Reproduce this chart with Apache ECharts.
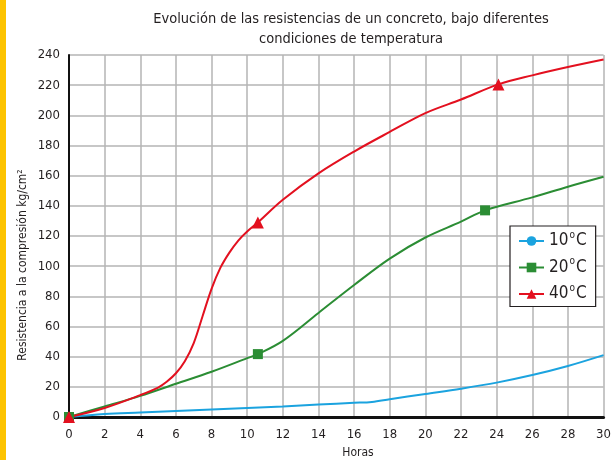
<!DOCTYPE html>
<html>
<head>
<meta charset="utf-8">
<script src="https://cdn.jsdelivr.net/npm/echarts@6/dist/echarts.min.js"></script>
<style>
html,body{margin:0;padding:0;background:#fff;}
#chart{width:614px;height:460px;}
</style>
</head>
<body>
<div id="chart"></div>
<script>
// ---- data ----
const titleText = 'Evolución de las resistencias de un concreto, bajo diferentes\ncondiciones de temperatura';
const xAxisName = 'Horas';
const yAxisName = 'Resistencia a la compresión kg/cm²';
const seriesNames = ['10°C', '20°C', '40°C'];

const hours10 = [0, 2, 4, 6, 8, 10, 12, 14, 16, 17, 18, 20, 22, 24, 26, 28, 30];
const res10   = [0, 2, 3, 4, 5, 6, 7, 8.3, 9.4, 10, 11.8, 15.3, 18.8, 22.8, 27.8, 33.8, 41];

const hours20 = [0, 2, 4, 6, 8, 10, 10.6, 12, 14, 16, 18, 20, 22, 23.35, 26, 28, 30];
const res20   = [0, 7, 14, 22, 30, 39, 41.7, 50.5, 69, 87.5, 105, 119, 129.5, 137, 145.6, 152.7, 159.3];

const hours40 = [0, 2, 4, 5, 5.5, 6, 6.5, 7, 7.5, 8, 8.5, 9, 9.5, 10, 10.6, 12, 14, 16, 18, 20, 22, 24.1, 26, 28, 30];
const res40   = [0, 6, 14.5, 19.5, 23.5, 29, 37, 49, 67, 85, 99, 109, 117, 123, 129, 144, 161.5, 176, 189, 201.5, 210.5, 220.5, 226.5, 232, 237];

const markHours10 = [0];
const markRes10   = [0];
const markHours20 = [0, 10.6, 23.35];
const markRes20   = [0, 41.7, 137];
const markHours40 = [0, 10.6, 24.1];
const markRes40   = [0, 129, 220.5];

const xTicks = {min: 0, max: 30, interval: 2};
const yTicks = {min: 0, max: 240, interval: 20};

// ---- build ----
const pairs = (xs, ys) => xs.map((x, i) => [x, ys[i]]);
const colors = ['#1ba3df', '#2b8d34', '#e3101f'];
const symbols = ['circle', 'rect', 'triangle'];
const lines = [pairs(hours10, res10), pairs(hours20, res20), pairs(hours40, res40)];
const marks = [pairs(markHours10, markRes10), pairs(markHours20, markRes20), pairs(markHours40, markRes40)];
const markSizes = [8, 10, 12];
const FONT = "'Liberation Sans Narrow', 'DejaVu Sans Condensed', 'Roboto', sans-serif";

const series = [];
seriesNames.forEach((name, i) => {
  series.push({
    name: name, type: 'line', data: lines[i],
    smooth: 0.35,
    symbol: symbols[i], symbolSize: 8, showSymbol: false,
    lineStyle: {color: colors[i], width: 2},
    itemStyle: {color: colors[i]},
    z: 2 + i, silent: true
  });
});
seriesNames.forEach((name, i) => {
  series.push({
    name: name, type: 'scatter', data: marks[i],
    symbol: symbols[i], symbolSize: markSizes[i], clip: false,
    itemStyle: {color: colors[i], opacity: 1},
    z: 5 + i, silent: true
  });
});

const chart = echarts.init(document.getElementById('chart'), null, {renderer: 'canvas'});
chart.setOption({
  animation: false,
  backgroundColor: '#ffffff',
  title: {
    text: titleText, left: 346, top: 4, textAlign: 'center',
    textStyle: {fontFamily: FONT, fontSize: 14.5, fontWeight: 'normal', color: '#231f20', lineHeight: 20}
  },
  grid: {left: 69, right: 3, top: 55, bottom: 43, containLabel: false},
  legend: {
    data: seriesNames, orient: 'vertical', left: 510, top: 226,
    padding: [4, 9, 4, 8], itemGap: 7,
    itemWidth: 25, itemHeight: 12,
    backgroundColor: '#ffffff', borderColor: '#231f20', borderWidth: 1.2,
    selectedMode: false,
    formatter: n => '{n|' + n.replace('°C', '') + '}{s|o}{n|C}',
    textStyle: {
      fontFamily: FONT, fontSize: 17, color: '#231f20',
      rich: {
        n: {fontFamily: FONT, fontSize: 17, color: '#231f20'},
        s: {fontFamily: FONT, fontSize: 10, color: '#231f20', padding: [0, 1, 12, 1]}
      }
    }
  },
  xAxis: {
    type: 'value', min: xTicks.min, max: xTicks.max, interval: xTicks.interval,
    axisLine: {show: true, onZero: false, lineStyle: {color: '#111', width: 3}},
    axisTick: {show: false},
    axisLabel: {fontFamily: FONT, fontSize: 13, color: '#231f20', margin: 11},
    splitLine: {show: true, lineStyle: {color: '#b4b4b4', width: 1.5}}
  },
  yAxis: {
    type: 'value', min: yTicks.min, max: yTicks.max, interval: yTicks.interval,
    axisLine: {show: true, onZero: false, lineStyle: {color: '#111', width: 2}},
    axisTick: {show: false},
    axisLabel: {fontFamily: FONT, fontSize: 13, color: '#231f20', margin: 9},
    splitLine: {show: true, lineStyle: {color: '#b4b4b4', width: 1.5}}
  },
  graphic: [
    {type: 'rect', left: 0, top: 0, shape: {width: 6, height: 460}, style: {fill: '#fdc300'}, silent: true},
    {type: 'text', x: 23, y: 265, rotation: Math.PI / 2,
     style: {text: yAxisName, fontFamily: FONT, fontSize: 12, fill: '#231f20', align: 'center', verticalAlign: 'middle'}, silent: true},
    {type: 'text', x: 358, y: 453,
     style: {text: xAxisName, fontFamily: FONT, fontSize: 12, fill: '#231f20', align: 'center', verticalAlign: 'middle'}, silent: true}
  ],
  series: series
});
</script>
</body>
</html>
